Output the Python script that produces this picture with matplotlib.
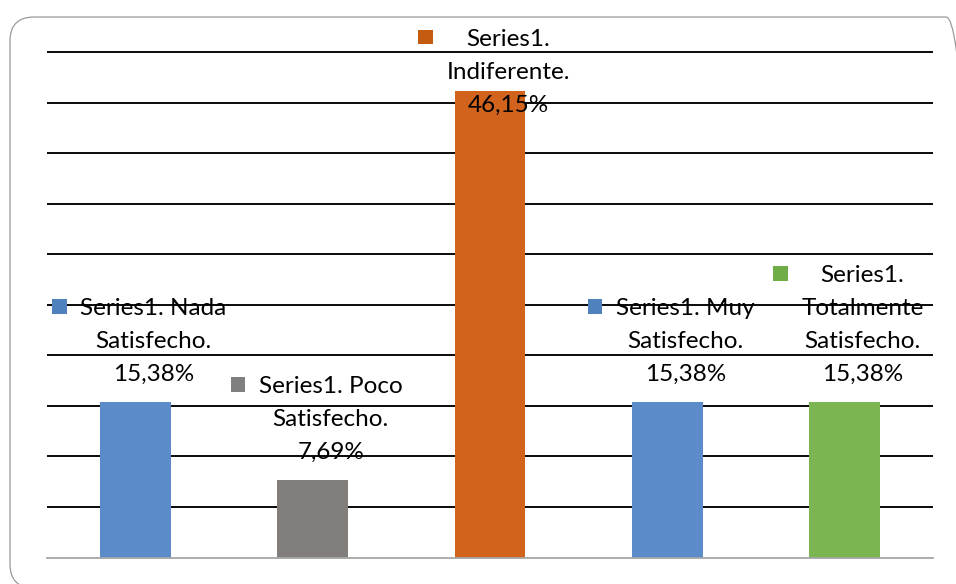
import matplotlib
matplotlib.use('Agg')
import matplotlib.pyplot as plt
from matplotlib.patches import FancyBboxPatch, Rectangle
from matplotlib.transforms import IdentityTransform

# ---- data ----
categories = ['Nada Satisfecho', 'Poco Satisfecho', 'Indiferente',
              'Muy Satisfecho', 'Totalmente Satisfecho']
values = [15.38, 7.69, 46.15, 15.38, 15.38]
series_name = 'Series1'
# wrapped name parts of each data label (as in the reference)
name_lines = [
    ['Series1. Nada', 'Satisfecho.'],
    ['Series1. Poco', 'Satisfecho.'],
    ['Series1.', 'Indiferente.'],
    ['Series1. Muy', 'Satisfecho.'],
    ['Series1.', 'Totalmente', 'Satisfecho.'],
]
bar_colors = ['#5B8BC8', '#827E7C', '#D2631C', '#5B8BC8', '#7AB551']
key_colors = ['#4F81BD', '#7F7F7F', '#C55A11', '#4F81BD', '#70AD47']
grid_values = [5, 10, 15, 20, 25, 30, 35, 40, 45, 50]

W, H = 956, 584
fig = plt.figure(figsize=(W / 100, H / 100), dpi=100)
ax_left, ax_right, ax_top, ax_bottom = 47.0, 933.0, 50.3, 557.5
ax = fig.add_axes([ax_left / W, (H - ax_bottom) / H,
                   (ax_right - ax_left) / W, (ax_bottom - ax_top) / H])

ax.bar(range(len(values)), values, width=0.4, color=bar_colors, zorder=2)
ax.set_xlim(-0.5, len(values) - 0.5)
ax.set_ylim(0, 50.2)
ax.set_yticks(grid_values)
ax.set_xticks([])
ax.yaxis.grid(True, color='black', lw=1.35)
ax.set_axisbelow(True)
ax.tick_params(axis='y', length=0, labelleft=False)
for s in ['left', 'right', 'top']:
    ax.spines[s].set_visible(False)
ax.spines['bottom'].set_color('#A6A6A6')
ax.spines['bottom'].set_linewidth(1.3)

# chart border
border = FancyBboxPatch((10, -4), 960, H - 17 + 4,
                        boxstyle='round,pad=0,rounding_size=24',
                        transform=IdentityTransform(), fill=False,
                        edgecolor='#9A9A9A', lw=0.9)
fig.patches.append(border)

fig.canvas.draw()
renderer = fig.canvas.get_renderer()

FS = 17.5
LINE = 33
first_base_max = H - 45.7
for i, v in enumerate(values):
    pct = f'{v:.2f}'.replace('.', ',') + '%'
    lines = name_lines[i] + [pct]
    x_px, top_px = ax.transData.transform((i, v))
    cx = x_px + 18
    last_base = top_px + 21
    first_base = last_base + (len(lines) - 1) * LINE
    if first_base > first_base_max:
        first_base = first_base_max
    widths = []
    for k, line in enumerate(lines):
        t = fig.text(cx, first_base - k * LINE, line, transform=IdentityTransform(),
                     ha='center', va='baseline', fontsize=FS, family='Lato',
                     color='black', zorder=5)
        widths.append(t.get_window_extent(renderer).width)
    wmax = max(widths)
    sq = 14.5
    fig.patches.append(Rectangle((cx - wmax / 2 - 13.5 - sq, first_base + 1.3), sq, sq,
                                 transform=IdentityTransform(),
                                 facecolor=key_colors[i], edgecolor='none', zorder=5))

fig.savefig('out.png', dpi=100)
